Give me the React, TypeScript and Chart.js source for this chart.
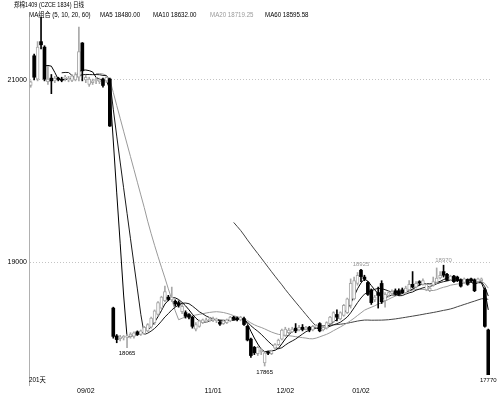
import React, { useEffect, useRef } from "react";
import { Chart, registerables } from "chart.js";

Chart.register(...registerables);

// ---- data ----
const opens = [
  20940, 21265, 21010, 21420, 21360, 20980, 21020, 20990, 21020, 21010,
  21020, 21000, 20995, 21000, 21030, 21405, 21000, 20950, 20970, 20990,
  20980, 21010, 20990, 21010, 18500, 18195, 18165, 18175, 18180, 18190,
  18190, 18240, 18210, 18220, 18250, 18290, 18340, 18430, 18500, 18580,
  18620, 18590, 18575, 18560, 18460, 18450, 18430, 18400, 18270, 18300,
  18340, 18350, 18360, 18365, 18360, 18345, 18330, 18340, 18360, 18400,
  18390, 18370, 18385, 18300, 18160, 18070, 18000, 18020, 17900, 18015,
  18000, 18060, 18100, 18160, 18200, 18230, 18240, 18280, 18260, 18290,
  18270, 18290, 18260, 18290, 18330, 18260, 18280, 18330, 18350, 18430,
  18380, 18420, 18450, 18530, 18600, 18770, 18915, 18840, 18780, 18700,
  18590, 18670, 18770, 18580, 18640, 18660, 18690, 18690, 18700, 18670,
  18700, 18760, 18730, 18790, 18760, 18700, 18690, 18750, 18780, 18830,
  18900, 18870, 18810, 18850, 18840, 18810, 18780, 18810, 18820, 18810,
  18790, 18800, 18700, 18260,
];
const highs = [
  20990, 21285, 21420, 21690, 21375, 21150, 21060, 21040, 21030, 21030,
  21050, 21040, 21060, 21080, 21580, 21410, 21050, 21030, 21010, 21030,
  21020, 21020, 21040, 21020, 18510, 18210, 18200, 18200, 18210, 18230,
  18240, 18250, 18260, 18300, 18330, 18400, 18480, 18570, 18630, 18740,
  18640, 18730, 18590, 18580, 18540, 18470, 18440, 18410, 18340, 18370,
  18380, 18390, 18400, 18400, 18390, 18360, 18370, 18380, 18410, 18410,
  18400, 18410, 18400, 18310, 18170, 18080, 18080, 18060, 18020, 18030,
  18040, 18110, 18160, 18270, 18290, 18280, 18290, 18330, 18310, 18320,
  18300, 18300, 18310, 18320, 18340, 18300, 18350, 18410, 18460, 18480,
  18460, 18540, 18610, 18820, 18840, 18890, 18925, 18860, 18790, 18710,
  18640, 18730, 18800, 18670, 18690, 18700, 18710, 18710, 18720, 18740,
  18800, 18900, 18790, 18800, 18820, 18770, 18740, 18840, 18940, 18900,
  18970, 18880, 18860, 18860, 18850, 18820, 18830, 18820, 18830, 18820,
  18830, 18830, 18720, 18270,
];
const lows = [
  20920, 21000, 20990, 21340, 20990, 20950, 20850, 20970, 20990, 20980,
  20990, 20980, 20980, 20990, 20990, 20990, 20970, 20930, 20950, 20960,
  20960, 20920, 20970, 20490, 18170, 18120, 18140, 18150, 18065, 18170,
  18170, 18200, 18200, 18210, 18240, 18280, 18320, 18420, 18490, 18570,
  18580, 18570, 18520, 18510, 18440, 18390, 18380, 18280, 18250, 18290,
  18330, 18340, 18350, 18350, 18340, 18310, 18320, 18330, 18350, 18370,
  18360, 18360, 18310, 18140, 17960, 17990, 17980, 17990, 17865, 17990,
  17990, 18050, 18090, 18150, 18190, 18220, 18230, 18230, 18250, 18250,
  18260, 18240, 18250, 18280, 18240, 18250, 18270, 18320, 18340, 18360,
  18370, 18410, 18440, 18500, 18590, 18750, 18790, 18800, 18640, 18540,
  18570, 18500, 18550, 18510, 18620, 18640, 18640, 18640, 18660, 18660,
  18690, 18720, 18720, 18750, 18750, 18690, 18680, 18740, 18770, 18820,
  18840, 18800, 18800, 18780, 18790, 18730, 18770, 18750, 18790, 18680,
  18780, 18790, 18290, 17770,
];
const closes = [
  20980, 21030, 21360, 21385, 21010, 21010, 20990, 21020, 21005, 20995,
  21020, 21020, 21045, 21060, 21310, 21100, 21030, 21010, 20990, 21010,
  21000, 20940, 21030, 20495, 18190, 18155, 18185, 18190, 18195, 18215,
  18230, 18215, 18250, 18290, 18320, 18390, 18470, 18560, 18620, 18680,
  18595, 18620, 18545, 18530, 18520, 18410, 18400, 18300, 18320, 18360,
  18370, 18370, 18380, 18385, 18380, 18325, 18360, 18370, 18400, 18380,
  18380, 18400, 18320, 18150, 17980, 18010, 18070, 18040, 18010, 18005,
  18030, 18100, 18150, 18260, 18270, 18260, 18270, 18250, 18290, 18270,
  18290, 18260, 18300, 18310, 18250, 18290, 18340, 18400, 18450, 18400,
  18450, 18530, 18600, 18770, 18800, 18860, 18845, 18820, 18650, 18560,
  18620, 18640, 18570, 18650, 18670, 18680, 18660, 18650, 18670, 18720,
  18760, 18730, 18770, 18775, 18800, 18760, 18720, 18790, 18830, 18860,
  18860, 18805, 18850, 18790, 18800, 18740, 18820, 18760, 18800, 18690,
  18820, 18820, 18300, 17770,
];

const categories = closes.map((_, i) => String(i + 1));
const tickDays = [16, 53, 74, 96];
const tickLabels = ["09/02", "11/01", "12/02", "01/02"];
const yTicks = [19000, 21000];
const maPeriods = [5, 10, 20, 60];

const markDays = [28, 68, 96, 120, 133];
const markValues = [18065, 17865, 18925, 18970, 17770];
const markAbove = [false, false, true, true, false];

function movingAverage(src: number[], n: number): (number | null)[] {
  return src.map((_, i) => {
    if (i < n - 1) return null;
    let s = 0;
    for (let k = i - n + 1; k <= i; k++) s += src[k];
    return s / n;
  });
}

const NUM_FONT = '"Liberation Sans", Arial, sans-serif';
const CJK_FONT = '"Liberation Sans", "Noto Sans CJK SC", sans-serif';

export default function App() {
  const ref = useRef<HTMLCanvasElement>(null);
  const mas = maPeriods.map((p) => movingAverage(closes, p));
  const lastMa = mas.map((m) => (m[m.length - 1] as number).toFixed(2));

  useEffect(() => {
    const canvas = ref.current;
    if (!canvas) return;
    const up = closes.map((c, i) => c >= opens[i]);
    const hollow = "#a8a8a8";

    const marksPlugin = {
      id: "marks",
      afterDraw(chart: any) {
        const { ctx, scales, chartArea } = chart;
        const xs = scales.x;
        const ys = scales.y;
        ctx.save();
        ctx.font = `6px ${NUM_FONT}`;
        ctx.textAlign = "center";
        markDays.forEach((d, k) => {
          const px = xs.getPixelForValue(d);
          const py = ys.getPixelForValue(markValues[k]);
          if (markAbove[k]) {
            ctx.fillStyle = "#999";
            ctx.textBaseline = "bottom";
            ctx.fillText(String(markValues[k]), px, py - 2);
          } else {
            ctx.fillStyle = "#000";
            ctx.textBaseline = "top";
            ctx.fillText(String(markValues[k]), px, py + 3);
          }
        });
        ctx.font = `7px ${NUM_FONT}`;
        ctx.fillStyle = "#000";
        ctx.textBaseline = "top";
        tickDays.forEach((d, k) => {
          ctx.fillText(tickLabels[k], xs.getPixelForValue(d), chartArea.bottom + 3);
        });
        ctx.restore();
      },
    };

    const maColors = ["#000000", "#1a1a1a", "#9a9a9a", "#444444"];

    const chart = new Chart(canvas, {
      type: "bar",
      data: {
        labels: categories,
        datasets: [
          {
            type: "bar",
            label: "body",
            data: opens.map((o, i) => [o, closes[i]]) as any,
            backgroundColor: up.map((u) => (u ? "#ffffff" : "#000000")),
            borderColor: up.map((u) => (u ? hollow : "#000000")),
            borderWidth: up.map((u) => (u ? 1 : 0)),
            borderSkipped: false,
            barThickness: 3,
            minBarLength: 1,
            grouped: false,
            order: 0,
          } as any,
          {
            type: "bar",
            label: "wick",
            data: lows.map((l, i) => [l, highs[i]]) as any,
            backgroundColor: up.map((u) => (u ? hollow : "#000000")),
            borderWidth: 0,
            barThickness: 1,
            grouped: false,
            order: 1,
          } as any,
          ...mas.map((m, k) => ({
            type: "line",
            label: "MA" + maPeriods[k],
            data: m,
            borderColor: maColors[k],
            borderWidth: 1,
            pointRadius: 0,
            fill: false,
            tension: 0,
            order: 2 + k,
          })) as any,
        ],
      },
      options: {
        responsive: false,
        animation: false,
        events: [],
        layout: { padding: { top: 17, right: 10, left: 0, bottom: 0 } },
        plugins: { legend: { display: false }, tooltip: { enabled: false } },
        scales: {
          x: {
            grid: { display: false },
            border: { display: false },
            ticks: { display: false },
            afterFit: (s: any) => {
              s.height = 10;
            },
          },
          y: {
            min: 17657,
            max: 21690,
            grid: { color: "#c4c4c4", drawTicks: false },
            border: { display: true, color: "#b0b0b0", dash: [1, 2] },
            ticks: {
              padding: 2,
              color: "#000",
              font: { size: 7, family: NUM_FONT },
              callback: (v: any) => String(v),
            },
            afterBuildTicks: (s: any) => {
              s.ticks = yTicks.map((v) => ({ value: v }));
            },
            afterFit: (s: any) => {
              s.width = 29;
            },
          },
        },
      } as any,
      plugins: [marksPlugin],
    });
    return () => chart.destroy();
  }, []);

  const txt = (left: number, top: number, sx: number, color = "#000"): React.CSSProperties => ({
    position: "absolute",
    left,
    top,
    fontSize: 7,
    lineHeight: "8px",
    whiteSpace: "nowrap",
    fontFamily: CJK_FONT,
    color,
    transform: `scaleX(${sx})`,
    transformOrigin: "left top",
  });

  return (
    <div
      style={{
        position: "fixed",
        left: 0,
        top: 0,
        width: 500,
        height: 395,
        background: "#fff",
        overflow: "hidden",
      }}
    >
      <canvas
        ref={ref}
        width={500}
        height={395}
        style={{ position: "absolute", left: 0, top: 0, width: 500, height: 395 }}
      />
      <div style={txt(14, 1, 0.79)}>郑棉1409 (CZCE 1834) 日线</div>
      <div style={txt(29, 11, 0.88)}>MA组合 (5, 10, 20, 60)</div>
      <div style={txt(100, 11, 0.88)}>MA5 {lastMa[0]}</div>
      <div style={txt(153, 11, 0.88)}>MA10 {lastMa[1]}</div>
      <div style={txt(210, 11, 0.88, "#999")}>MA20 {lastMa[2]}</div>
      <div style={txt(265, 11, 0.88)}>MA60 {lastMa[3]}</div>
      <div style={txt(29, 376, 0.9)}>201天</div>
    </div>
  );
}
